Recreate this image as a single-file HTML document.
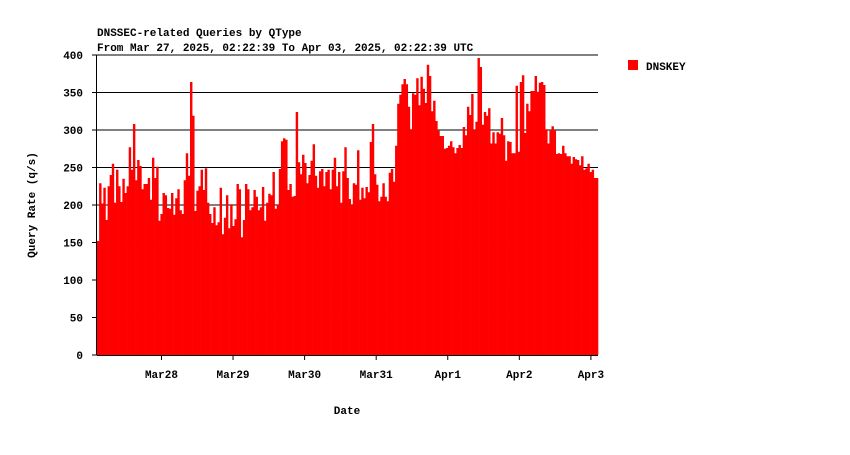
<!DOCTYPE html>
<html><head><meta charset="utf-8"><style>
body{margin:0;background:#fff;}
svg text{font-family:"Liberation Mono","DejaVu Sans Mono",monospace;font-size:11px;font-weight:bold;fill:#000;}
</style></head><body>
<svg id="chart" width="850" height="450" xmlns="http://www.w3.org/2000/svg">
<text x="97" y="36">DNSSEC-related Queries by QType</text>
<text x="97" y="51">From Mar 27, 2025, 02:22:39 To Apr 03, 2025, 02:22:39 UTC</text>
<g id="grid"></g>
<g id="bars"></g>
<g id="axes"></g>
<text transform="translate(35,205) rotate(-90)" text-anchor="middle">Query Rate (q/s)</text>
<text x="347" y="414" text-anchor="middle">Date</text>
<g>
<rect x="628" y="60" width="10" height="10" fill="#ff0000"/>
<text x="646" y="70">DNSKEY</text>
</g>
</svg>
<script>
const values=[152,229,202,223,180,225,240,255,203,247,225,204,235,216,225,277,247,308,233,260,252,221,228,228,236,207,263,236,251,179,188,216,213,196,195,216,187,209,221,193,188,233,269,239,364,319,192,219,225,247,220,249,203,188,176,197,173,177,223,161,183,
213,169,201,172,181,228,221,157,180,228,221,193,197,220,211,193,197,224,179,203,215,213,244,195,200,248,285,289,287,220,228,211,212,324,257,241,267,256,229,240,259,281,239,223,245,248,225,244,247,221,247,263,225,244,203,245,277,236,
208,200,229,227,273,207,223,209,224,217,284,308,241,227,205,211,229,211,205,243,248,231,279,335,347,361,368,361,331,301,349,347,369,333,371,355,336,387,372,325,339,312,299,292,292,275,276,279,285,277,269,276,280,276,304,293,331,
320,348,300,311,396,384,307,324,319,329,282,297,282,297,295,316,293,259,285,284,269,269,359,271,364,373,296,335,325,352,352,372,351,363,364,360,301,282,299,305,299,268,269,268,279,269,265,265,255,264,261,260,253,265,247,249,255,244,247,236,236];
const yTicks=[0,50,100,150,200,250,300,350,400];
const xTickLabels=["Mar28","Mar29","Mar30","Mar31","Apr1","Apr2","Apr3"];
const xTickHours=[21.62,45.62,69.62,93.62,117.62,141.62,165.62];
const totalHours=168;
const NS="http://www.w3.org/2000/svg";
const L=97,R=598,T=55,B=355,yMax=400;
const ys=v=>B-(v/yMax)*(B-T);
const xs=h=>L+(h/totalHours)*(R-L);
function mk(tag,attrs,parent){const e=document.createElementNS(NS,tag);for(const k in attrs)e.setAttribute(k,attrs[k]);parent.appendChild(e);return e;}
const grid=document.getElementById('grid'),bars=document.getElementById('bars'),axes=document.getElementById('axes');
yTicks.forEach(t=>{
  if(t>0){const g=mk('line',{x1:L,x2:R,y1:ys(t),y2:ys(t),stroke:'#000','stroke-width':1},grid);
  
  }
  const tk=mk('line',{x1:L-5,x2:L,y1:ys(t),y2:ys(t),stroke:'#000'},axes);
  
  
  const tx=mk('text',{x:L-14,y:ys(t)+4,'text-anchor':'end'},axes);tx.textContent=t;
  
  
});
const bw=(R-L)/values.length;
values.forEach((v,i)=>{
  const r=mk('rect',{x:L+i*bw,y:ys(v),width:bw+0.3,height:B-ys(v),fill:'#ff0000'},bars);
  
  
});
const ya=mk('line',{x1:L-0.5,x2:L-0.5,y1:T,y2:B,stroke:'#000'},axes);


const xa=mk('line',{x1:L,x2:R,y1:B+0.5,y2:B+0.5,stroke:'#000'},axes);


xTickLabels.forEach((lab,i)=>{
  const x=xs(xTickHours[i]);
  const tk=mk('line',{x1:x,x2:x,y1:B,y2:B+5,stroke:'#000'},axes);
  
  
  const tx=mk('text',{x:x,y:B+23,'text-anchor':'middle'},axes);tx.textContent=lab;
  
  
});
</script>
</body></html>
